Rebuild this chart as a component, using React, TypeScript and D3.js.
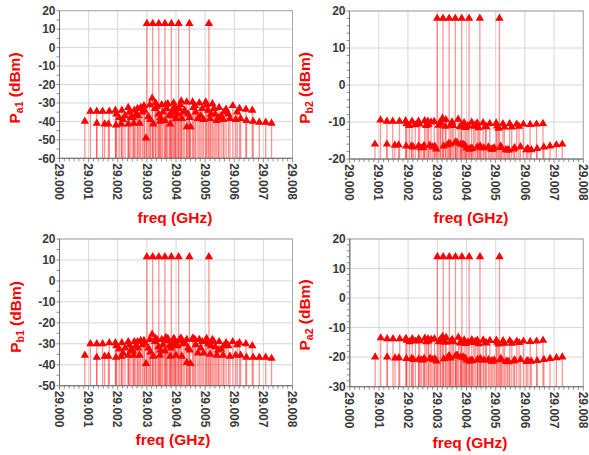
import React from 'react';
import * as d3 from 'd3';

// ---------- DATA ----------
const xTickLabels = ['29.000', '29.001', '29.002', '29.003', '29.004', '29.005', '29.006', '29.007', '29.008'];

const toneFreq = [29.003, 29.0032, 29.00341, 29.00362, 29.00384, 29.00409, 29.00446, 29.00513];

const upperFreq = [29.00106, 29.00128, 29.00148, 29.00171, 29.00192, 29.00214, 29.00236, 29.00257, 29.00268, 29.00279,
  29.0029, 29.0031, 29.0033, 29.00351, 29.00372, 29.00392, 29.00418, 29.00437, 29.00457, 29.0048,
  29.00502, 29.00525, 29.00548, 29.00572, 29.00595, 29.00618, 29.0064, 29.00662];

const lowerFreq = [29.00087, 29.00128, 29.00155, 29.00168, 29.00194, 29.00212, 29.00236, 29.00255, 29.00275, 29.00297,
  29.00322, 29.00345, 29.00362, 29.0038, 29.004, 29.0042, 29.00437, 29.0045, 29.00475, 29.00495,
  29.00517, 29.0054, 29.00562, 29.00585, 29.00605, 29.00622, 29.00642, 29.00665, 29.00686, 29.00708, 29.00728];

const midFreq = [29.00205, 29.00225, 29.00245, 29.00262, 29.00285, 29.00305, 29.00318, 29.00328, 29.0034, 29.00355,
  29.00368, 29.00378, 29.00388, 29.00398, 29.0041, 29.00425, 29.00442, 29.0046, 29.00468, 29.0049,
  29.0051, 29.00535, 29.00555, 29.00565];

const mid2Freq = [29.00195, 29.00218, 29.0024, 29.00252, 29.0027, 29.00292, 29.00312, 29.00335, 29.00346, 29.00365,
  29.00383, 29.00395, 29.00405, 29.00415, 29.0043, 29.00447, 29.00465, 29.00485, 29.00505, 29.0052,
  29.0053, 29.00545, 29.0058, 29.0061];

// Pa1
const a1Tone = [13, 13, 13, 13, 13, 13, 13, 13];
const a1Upper = [-34.5, -34.5, -34.5, -34.5, -34, -34, -32.5, -34, -33, -32.5, -31.5, -31, -30, -31, -30.5, -30, -29, -29.5, -29.5, -30,
  -29.5, -30.5, -32.5, -33.5, -31.5, -33, -33.5, -34];
const a1Lower = [-40, -41, -41.5, -41.5, -42, -41.5, -41.5, -41, -41, -49, -41.5, -40, -39.5, -41.5, -38.5, -38.5, -43, -43, -38.5, -39,
  -38.5, -39.5, -39, -38.5, -39, -38.5, -39.5, -40, -40.5, -40.5, -41];
const a1Mid = [-38, -37, -38, -36.5, -35, -37.5, -27.5, -33, -36, -35, -33, -36.5, -34, -35, -33, -35, -36, -32.5, -35, -33,
  -34, -36, -37, -35];
const a1Mid2 = [-36, -39, -35, -38, -37, -34, -39, -32, -38, -31, -37, -32, -36, -31, -34, -38, -31.5, -37, -31, -36,
  -33, -38, -36, -35];

// Pb2
const b2Tone = [18, 18, 18, 18, 18, 18, 18, 18];
const b2Upper = [-9.5, -9.8, -9.8, -9.8, -9.7, -9.8, -9.8, -9.7, -9.8, -10, -9.9, -10, -9.4, -10, -9.3, -10.2, -10.1, -10.3, -10.2, -10.4,
  -10.3, -10.5, -10.5, -10.6, -10.6, -10.7, -10.6, -10.4];
const b2Lower = [-16, -16, -16.3, -16.2, -16.5, -16.5, -16.5, -16.4, -16.3, -17.3, -16.5, -16, -15.5, -16, -17, -17.2, -16.8, -17, -16.8, -17,
  -16.5, -17.5, -17.3, -16.7, -17.5, -17.5, -17.2, -16.8, -16.5, -16.2, -16];
const b2Mid = [-11, -10.8, -17, -11, -16.8, -10.9, -9, -11.2, -15.8, -11, -15.6, -11.3, -16, -11.5, -17.4, -11.2, -11.6, -17, -11.3, -17.4,
  -11.7, -17.5, -11.4, -17];
const b2Mid2 = [-10.5, -16.8, -10.6, -16.9, -10.7, -16.6, -10.3, -16.2, -10.8, -15.5, -10.9, -16.3, -11, -17.1, -10.8, -16.5, -11.2, -17.3,
  -11.1, -16.9, -11.4, -17.6, -11.2, -17.2];

// Pb1
const b1Tone = [11.5, 11.5, 11.5, 11.5, 11.5, 11.5, 11.5, 11.5];
const b1Upper = [-30, -30, -30, -29.5, -29.5, -29.5, -29, -29, -29, -28.5, -28.5, -28, -27.5, -28, -27.5, -27.5, -27.5, -28, -27.5, -28,
  -28.5, -28, -29, -29.5, -29, -29.5, -30, -31];
const b1Lower = [-35.5, -36.5, -36, -36, -36.5, -36, -35.5, -35.5, -35.5, -39.5, -36, -35.5, -33.5, -36, -35.5, -36, -39, -39.5, -34.5, -34.5,
  -35, -35.5, -35.5, -36, -35.5, -35.5, -36.5, -36.5, -36.5, -36.5, -37];
const b1Mid = [-32.5, -32, -33, -31, -30.5, -32, -25.5, -29, -31.5, -30.5, -28.5, -31, -29.5, -30.5, -28.5, -30, -32, -27.5, -30.5, -29,
  -30, -31.5, -32.5, -31];
const b1Mid2 = [-31, -34.5, -30.5, -33.5, -32, -29.5, -34, -28, -33, -27, -32, -28, -31, -27.5, -29.5, -33, -28, -32, -27.5, -31,
  -29, -33, -31, -30.5];

// Pa2
const a2Tone = [14, 14, 14, 14, 14, 14, 14, 14];
const a2Upper = [-13.5, -13.8, -13.8, -13.8, -13.7, -13.8, -13.8, -13.6, -13.8, -14, -13.8, -14, -13.4, -14, -13.3, -14.2, -14.1, -14.3, -14.2, -14.4,
  -14.3, -14.5, -14.5, -14.6, -14.6, -14.7, -14.6, -14.3];
const a2Lower = [-20, -20, -20.3, -20.2, -20.5, -20.5, -20.6, -20.5, -20.4, -21.3, -20.6, -20.3, -19.6, -20, -21, -21.2, -20.8, -21, -20.8, -21,
  -20.5, -21.5, -21.3, -20.8, -21.5, -21.4, -21.2, -20.8, -20.5, -20.2, -20];
const a2Mid = [-14.8, -14.6, -21, -14.8, -20.8, -14.8, -13, -15, -19.5, -14.8, -19.4, -15.2, -20, -15.4, -21.4, -15.1, -15.5, -21, -15.2, -21.4,
  -15.6, -21.5, -15.3, -21];
const a2Mid2 = [-14.3, -20.8, -14.5, -20.9, -14.6, -20.6, -14.2, -20.2, -14.7, -19.5, -14.8, -20.3, -14.9, -21.1, -14.7, -20.5, -15.1, -21.3,
  -15, -20.9, -15.3, -21.6, -15.1, -21.2];

// ---------- LAYOUT ----------
type PanelCfg = {
  sub: string; x0: number; x1: number; yTop: number; yBot: number; yMin: number; yMinorStep: number;
  yLabX: number; yLabY: number; xLabX: number; xLabY: number;
  tone: number[]; upper: number[]; lower: number[]; mid: number[]; mid2: number[];
};

const panels: PanelCfg[] = [
  { sub: 'a1', x0: 59.5, x1: 292.5, yTop: 10.7, yBot: 158.3, yMin: -60, yMinorStep: 5, yLabX: 15, yLabY: 88, xLabX: 175, xLabY: 223,
    tone: a1Tone, upper: a1Upper, lower: a1Lower, mid: a1Mid, mid2: a1Mid2 },
  { sub: 'b2', x0: 349.5, x1: 583.3, yTop: 11, yBot: 159, yMin: -20, yMinorStep: 2, yLabX: 305, yLabY: 88, xLabX: 471, xLabY: 223,
    tone: b2Tone, upper: b2Upper, lower: b2Lower, mid: b2Mid, mid2: b2Mid2 },
  { sub: 'b1', x0: 59.5, x1: 292.5, yTop: 239, yBot: 385.7, yMin: -50, yMinorStep: 5, yLabX: 16, yLabY: 317, xLabX: 173, xLabY: 445,
    tone: b1Tone, upper: b1Upper, lower: b1Lower, mid: b1Mid, mid2: b1Mid2 },
  { sub: 'a2', x0: 349.8, x1: 583.3, yTop: 239, yBot: 386.7, yMin: -30, yMinorStep: 2, yLabX: 305, yLabY: 315, xLabX: 470, xLabY: 448,
    tone: a2Tone, upper: a2Upper, lower: a2Lower, mid: a2Mid, mid2: a2Mid2 },
];

const RED = '#ff0000';
const FONT = "'Liberation Sans', Arial, sans-serif";
const tri = d3.symbol().type(d3.symbolTriangle).size(30)() as string;

function Panel({ p }: { p: PanelCfg }) {
  const x = d3.scaleLinear().domain([29.0, 29.008]).range([p.x0, p.x1]);
  const y = d3.scaleLinear().domain([p.yMin, 20]).range([p.yBot, p.yTop]);
  const xMajor = xTickLabels.map((t) => +t);
  const xMinor = d3.range(0, 49).map((i) => 29 + (i * 0.001) / 6);
  const yMajor = d3.range(p.yMin, 20.001, 10);
  const yMinor = d3.range(p.yMin, 20.001, p.yMinorStep);

  const pts: [number, number][] = [];
  upperFreq.forEach((f, i) => pts.push([f, p.upper[i]]));
  lowerFreq.forEach((f, i) => pts.push([f, p.lower[i]]));
  midFreq.forEach((f, i) => pts.push([f, p.mid[i]]));
  mid2Freq.forEach((f, i) => pts.push([f, p.mid2[i]]));
  toneFreq.forEach((f, i) => pts.push([f, p.tone[i]]));

  return (
    <g>
      {xMajor.map((v, i) => (
        <line key={'gx' + i} x1={x(v)} x2={x(v)} y1={p.yTop} y2={p.yBot} stroke="#d6d6d6" strokeWidth={1} />
      ))}
      {yMajor.map((v, i) => (
        <line key={'gy' + i} x1={p.x0} x2={p.x1} y1={y(v)} y2={y(v)} stroke="#d6d6d6" strokeWidth={1} />
      ))}
      <rect x={p.x0} y={p.yTop} width={p.x1 - p.x0} height={p.yBot - p.yTop} fill="none" stroke="#a8a8a8" strokeWidth={1} />
      {pts.map(([f, v], i) => (
        <line key={'s' + i} x1={x(f)} x2={x(f)} y1={p.yBot} y2={y(v)} stroke={RED} strokeOpacity={0.42} strokeWidth={1.3} />
      ))}
      {pts.map(([f, v], i) => (
        <path key={'m' + i} d={tri} transform={`translate(${x(f)},${y(v)})`} fill={RED} />
      ))}
      <line x1={p.x0} x2={p.x0} y1={p.yTop} y2={p.yBot} stroke="#707070" strokeWidth={1} />
      <line x1={p.x0} x2={p.x1} y1={p.yBot} y2={p.yBot} stroke="#707070" strokeWidth={1} />
      {xMinor.map((v, i) => (
        <line key={'mx' + i} x1={x(v)} x2={x(v)} y1={p.yBot} y2={p.yBot + (i % 6 === 0 ? 4 : 3)} stroke="#707070" strokeWidth={0.8} />
      ))}
      {yMinor.map((v, i) => (
        <line key={'my' + i} x1={p.x0 - 3} x2={p.x0} y1={y(v)} y2={y(v)} stroke="#707070" strokeWidth={0.8} />
      ))}
      {xTickLabels.map((t, i) => (
        <text key={'tx' + i} transform={`translate(${x(+t)},${p.yBot + 5}) rotate(90)`} dy="0.36em" fontFamily={FONT}
          fontWeight="bold" fontSize={12} fill="#3a3a3a" textAnchor="start">{t}</text>
      ))}
      {yMajor.map((v, i) => (
        <text key={'ty' + i} x={p.x0 - 4} y={y(v)} dy="0.36em" fontFamily={FONT} fontWeight="bold" fontSize={12}
          fill="#3a3a3a" textAnchor="end">{String(v)}</text>
      ))}
      <text x={p.xLabX} y={p.xLabY} textAnchor="middle" fontFamily={FONT} fontWeight="bold" fontSize={15.5} fill={RED}>freq (GHz)</text>
      <text transform={`translate(${p.yLabX + 5},${p.yLabY}) rotate(-90)`} textAnchor="middle" fontFamily={FONT}
        fontWeight="bold" fontSize={15.5} fill={RED}>
        <tspan>P</tspan>
        <tspan fontSize={10.5} dy={3}>{p.sub}</tspan>
        <tspan dy={-3}> (dBm)</tspan>
      </text>
    </g>
  );
}

export default function App() {
  return (
    <svg width={589} height={455} style={{ position: 'absolute', left: 0, top: 0, background: '#fff' }}>
      <rect width={589} height={455} fill="#fff" />
      {panels.map((p, i) => (
        <Panel key={i} p={p} />
      ))}
    </svg>
  );
}
